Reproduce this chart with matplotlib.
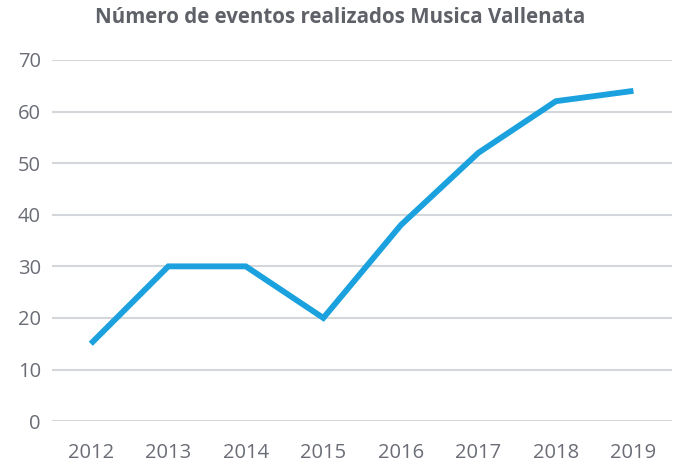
import matplotlib
matplotlib.use("Agg")
import matplotlib.pyplot as plt

years = ["2012", "2013", "2014", "2015", "2016", "2017", "2018", "2019"]
eventos = [15, 30, 30, 20, 38, 52, 62, 64]

plt.rcParams["font.family"] = ["Open Sans", "DejaVu Sans"]

fig = plt.figure(figsize=(6.8, 4.68), dpi=100)
ax = fig.add_axes([0.0765, 0.100, 0.912, 0.772])

x = range(len(years))
ax.plot(x, eventos, color="#1BA1DE", linewidth=4.2, solid_joinstyle="miter", solid_capstyle="butt")

ax.set_xlim(-0.5, len(years) - 0.5)
ax.set_ylim(0, 70)
ax.set_yticks(range(0, 71, 10))
ax.set_xticks(list(x))
ax.set_xticklabels(years)

ax.grid(axis="y", color="#D3D6DB", linewidth=1.5)
ax.set_axisbelow(True)
for s in ax.spines.values():
    s.set_visible(False)
ax.tick_params(length=0, labelsize=14.5, labelcolor="#6A6D76", pad=8)
ax.tick_params(axis="x", pad=16)

fig.text(0.5, 0.963, "Número de eventos realizados Musica Vallenata", ha="center", va="center",
         fontsize=14.8, fontweight="bold", color="#5F6168")

fig.savefig("out.png", dpi=100, facecolor="white")
